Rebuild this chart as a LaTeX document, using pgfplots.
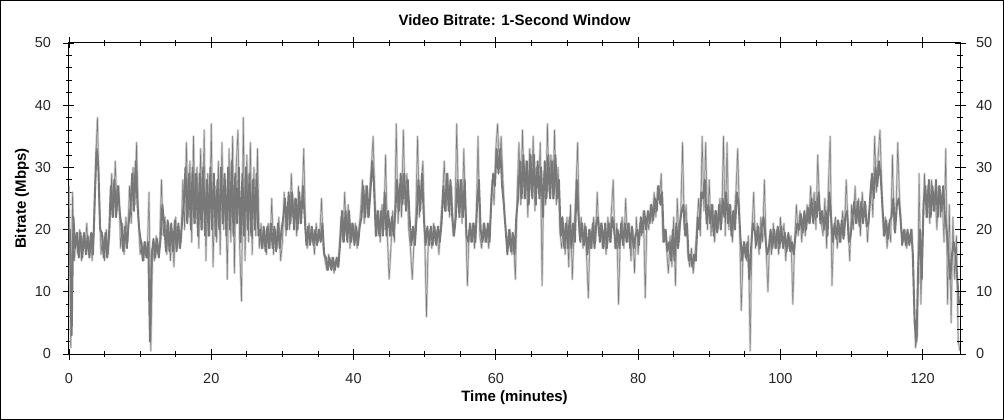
\documentclass[border=0pt]{standalone}
\usepackage{pgfplots}
\pgfplotsset{compat=1.18}
\usepackage{pgfplotstable}
\usepackage{fontspec}
\setmainfont{Liberation Sans}
\definecolor{dk}{RGB}{120,120,120}
\definecolor{lt}{RGB}{204,204,204}

% extremes (peaks and dips)
\pgfplotstableread[row sep=\\]{
x y\\
0 27\\ 0.25 1\\ 0.5 26\\ 0.75 15\\ 1 19\\ 1.25 16\\ 1.5 20\\ 1.75 15\\ 2 19\\ 2.25 17\\ 2.5 21\\ 2.75 16\\ 3 19\\ 3.25 15\\ 3.5 20\\ 3.75 31\\ 4 38\\ 4.25 25\\ 4.5 16\\ 4.75 19\\
5 15\\ 5.25 20\\ 5.5 16\\ 5.75 21\\ 6 29\\ 6.25 22\\ 6.5 31\\ 6.75 23\\ 7 27\\ 7.25 17\\ 7.5 21\\ 7.75 16\\ 8 22\\ 8.25 18\\ 8.5 27\\ 8.75 21\\ 9 30\\ 9.25 24\\ 9.5 34\\ 9.75 22\\
10 16\\ 10.25 18\\ 10.5 15\\ 10.75 18\\ 11 16\\ 11.25 26\\ 11.5 0.5\\ 11.75 17\\ 12 15\\ 12.25 19\\ 12.5 16\\ 12.75 18\\ 13 28\\ 13.25 19\\ 13.5 22\\ 13.75 16\\ 14 21\\ 14.25 15\\ 14.5 20\\ 14.75 14\\
15 22\\ 15.25 17\\ 15.5 20\\ 15.75 18\\ 16 28\\ 16.25 20\\ 16.5 34\\ 16.75 22\\ 17 31\\ 17.25 18\\ 17.5 35\\ 17.75 21\\ 18 30\\ 18.25 17\\ 18.5 33\\ 18.75 20\\ 19 36\\ 19.25 15\\ 19.5 29\\ 19.75 19\\
20 37\\ 20.25 14\\ 20.5 27\\ 20.75 18\\ 21 31\\ 21.25 16\\ 21.5 34\\ 21.75 20\\ 22 28\\ 22.25 12\\ 22.5 33\\ 22.75 18\\ 23 35\\ 23.25 13\\ 23.5 30\\ 23.75 36\\ 24 17\\ 24.25 8.5\\ 24.5 38\\ 24.75 15\\
25 32\\ 25.25 18\\ 25.5 34\\ 25.75 16\\ 26 30\\ 26.25 19\\ 26.5 33\\ 26.75 17\\ 27 21\\ 27.25 17\\ 27.5 20\\ 27.75 16\\ 28 21\\ 28.25 17\\ 28.5 25\\ 28.75 16\\ 29 20\\ 29.25 17\\ 29.5 22\\ 29.75 15\\
30 18\\ 30.25 26\\ 30.5 19\\ 30.75 24\\ 31 20\\ 31.25 29\\ 31.5 22\\ 31.75 25\\ 32 19\\ 32.25 27\\ 32.5 21\\ 32.75 24\\ 33 33\\ 33.25 20\\ 33.5 17\\ 33.75 21\\ 34 18\\ 34.25 20\\ 34.5 16\\ 34.75 21\\
35 18\\ 35.25 19\\ 35.5 25\\ 35.75 17\\ 36 15\\ 36.25 13.5\\ 36.5 16\\ 36.75 14\\ 37 15.5\\ 37.25 13\\ 37.5 15\\ 37.75 14\\ 38 17\\ 38.25 22\\ 38.5 18\\ 38.75 26\\ 39 19\\ 39.25 24\\ 39.5 17\\ 39.75 21\\
40 18\\ 40.25 21\\ 40.5 17\\ 40.75 20\\ 41 23\\ 41.25 28\\ 41.5 21\\ 41.75 27\\ 42 22\\ 42.25 26\\ 42.5 30\\ 42.75 35\\ 43 25\\ 43.25 19\\ 43.5 23\\ 43.75 18\\ 44 24\\ 44.25 20\\ 44.5 32\\ 44.75 19\\
45 12\\ 45.25 17\\ 45.5 23\\ 45.75 18\\ 46 37\\ 46.25 21\\ 46.5 27\\ 46.75 22\\ 47 36\\ 47.25 24\\ 47.5 29\\ 47.75 20\\ 48 17\\ 48.25 12\\ 48.5 18\\ 48.75 22\\ 49 35\\ 49.25 22\\ 49.5 27\\ 49.75 31\\
50 19\\ 50.25 6\\ 50.5 18\\ 50.75 20\\ 51 17\\ 51.25 21\\ 51.5 18\\ 51.75 20\\ 52 16\\ 52.25 21\\ 52.5 25\\ 52.75 31\\ 53 23\\ 53.25 29\\ 53.5 22\\ 53.75 27\\ 54 19\\ 54.25 21\\ 54.5 37\\ 54.75 24\\
55 28\\ 55.25 21\\ 55.5 33\\ 55.75 22\\ 56 11\\ 56.25 20\\ 56.5 18\\ 56.75 21\\ 57 17\\ 57.25 22\\ 57.5 35\\ 57.75 19\\ 58 17\\ 58.25 21\\ 58.5 18\\ 58.75 20\\ 59 17\\ 59.25 22\\ 59.5 28\\ 59.75 24\\
60 33\\ 60.25 37\\ 60.5 30\\ 60.75 35\\ 61 28\\ 61.25 22\\ 61.5 19\\ 61.75 17\\ 62 20\\ 62.25 16\\ 62.5 18\\ 62.75 12\\ 63 26\\ 63.25 34\\ 63.5 24\\ 63.75 36\\ 64 25\\ 64.25 31\\ 64.5 22\\ 64.75 33\\
65 26\\ 65.25 35\\ 65.5 23\\ 65.75 30\\ 66 27\\ 66.25 34\\ 66.5 11\\ 66.75 29\\ 67 24\\ 67.25 37\\ 67.5 26\\ 67.75 32\\ 68 25\\ 68.25 36\\ 68.5 24\\ 68.75 30\\ 69 20\\ 69.25 17\\ 69.5 21\\ 69.75 16\\
70 22\\ 70.25 14\\ 70.5 24\\ 70.75 12\\ 71 20\\ 71.25 26\\ 71.5 34\\ 71.75 19\\ 72 22\\ 72.25 17\\ 72.5 21\\ 72.75 16\\ 73 9\\ 73.25 20\\ 73.5 17\\ 73.75 22\\ 74 18\\ 74.25 26\\ 74.5 19\\ 74.75 21\\
75 17\\ 75.25 20\\ 75.5 16\\ 75.75 22\\ 76 18\\ 76.25 23\\ 76.5 28\\ 76.75 17\\ 77 21\\ 77.25 8\\ 77.5 19\\ 77.75 22\\ 78 17\\ 78.25 25\\ 78.5 18\\ 78.75 21\\ 79 15\\ 79.25 20\\ 79.5 13\\ 79.75 22\\
80 16\\ 80.25 21\\ 80.5 19\\ 80.75 23\\ 81 9\\ 81.25 22\\ 81.5 20\\ 81.75 24\\ 82 21\\ 82.25 26\\ 82.5 22\\ 82.75 27\\ 83 25\\ 83.25 29\\ 83.5 18\\ 83.75 20\\ 84 17\\ 84.25 13\\ 84.5 19\\ 84.75 14\\
85 22\\ 85.25 11\\ 85.5 25\\ 85.75 18\\ 86 23\\ 86.25 34\\ 86.5 20\\ 86.75 24\\ 87 16\\ 87.25 14\\ 87.5 17\\ 87.75 13\\ 88 16\\ 88.25 20\\ 88.5 25\\ 88.75 19\\ 89 35\\ 89.25 23\\ 89.5 34\\ 89.75 20\\
90 28\\ 90.25 19\\ 90.5 24\\ 90.75 18\\ 91 23\\ 91.25 20\\ 91.5 25\\ 91.75 21\\ 92 35\\ 92.25 19\\ 92.5 34\\ 92.75 20\\ 93 24\\ 93.25 18\\ 93.5 22\\ 93.75 26\\ 94 33\\ 94.25 22\\ 94.5 7\\ 94.75 16\\
95 18\\ 95.25 15\\ 95.5 19\\ 95.75 0.5\\ 96 20\\ 96.25 26\\ 96.5 17\\ 96.75 21\\ 97 16\\ 97.25 22\\ 97.5 18\\ 97.75 28\\ 98 17\\ 98.25 10\\ 98.5 19\\ 98.75 16\\ 99 21\\ 99.25 17\\ 99.5 20\\ 99.75 16\\
100 22\\ 100.25 18\\ 100.5 21\\ 100.75 15\\ 101 19\\ 101.25 17\\ 101.5 19\\ 101.75 8\\ 102 18\\ 102.25 24\\ 102.5 19\\ 102.75 23\\ 103 18\\ 103.25 22\\ 103.5 19\\ 103.75 24\\ 104 21\\ 104.25 27\\ 104.5 22\\ 104.75 26\\
105 20\\ 105.25 32\\ 105.5 24\\ 105.75 21\\ 106 19\\ 106.25 25\\ 106.5 17\\ 106.75 27\\ 107 35\\ 107.25 11\\ 107.5 20\\ 107.75 22\\ 108 17\\ 108.25 21\\ 108.5 18\\ 108.75 23\\ 109 19\\ 109.25 28\\ 109.5 21\\ 109.75 15\\
110 24\\ 110.25 20\\ 110.5 27\\ 110.75 21\\ 111 25\\ 111.25 19\\ 111.5 26\\ 111.75 22\\ 112 24\\ 112.25 18\\ 112.5 23\\ 112.75 28\\ 113 22\\ 113.25 35\\ 113.5 26\\ 113.75 32\\ 114 36\\ 114.25 27\\ 114.5 19\\ 114.75 22\\
115 17\\ 115.25 21\\ 115.5 18\\ 115.75 32\\ 116 20\\ 116.25 22\\ 116.5 34\\ 116.75 25\\ 117 20\\ 117.25 18\\ 117.5 20\\ 117.75 17\\ 118 19\\ 118.25 18\\ 118.5 20\\ 118.75 10\\ 119 1\\ 119.25 3\\ 119.5 29\\ 119.75 8\\
120 20\\ 120.25 29\\ 120.5 22\\ 120.75 27\\ 121 21\\ 121.25 28\\ 121.5 23\\ 121.75 26\\ 122 20\\ 122.25 27\\ 122.5 22\\ 122.75 25\\ 123 18\\ 123.25 33\\ 123.5 8\\ 123.75 24\\ 124 5\\ 124.25 22\\ 124.5 12\\ 124.75 19\\
125 2\\ 125.25 0.5\\
}\peaks

% dense core of the signal
\pgfplotstableread[row sep=\\]{
x y\\
0.125 20\\ 0.375 3\\ 0.625 22\\ 0.875 17\\ 1.125 19.5\\ 1.375 15.5\\ 1.625 19.5\\ 1.875 15.5\\ 2.125 19.5\\ 2.375 16\\ 2.625 19\\ 2.875 15.5\\ 3.125 19.5\\ 3.375 16\\
3.625 25\\ 3.875 33\\ 4.125 30\\ 4.375 20\\ 4.625 19.5\\ 4.875 15.5\\ 5.125 19.5\\ 5.375 15.5\\ 5.625 19\\
5.875 27\\ 6.125 22\\ 6.375 28\\ 6.625 22\\ 6.875 27\\ 7.125 23\\ 7.375 20.5\\ 7.625 16.5\\ 7.875 20.5\\ 8.125 17\\ 8.375 21\\
8.625 23\\ 8.875 29\\ 9.125 23\\ 9.375 31\\ 9.625 24\\ 9.875 20\\ 10.125 18\\ 10.375 15\\ 10.625 18\\ 10.875 15.5\\ 11.125 18\\
11.375 2\\ 11.625 16\\ 11.875 18.5\\ 12.125 15.5\\ 12.375 18.5\\ 12.625 15.5\\ 12.875 18.5\\ 13.125 24\\
13.375 21\\ 13.625 16.5\\ 13.875 21.5\\ 14.125 16.5\\ 14.375 21\\ 14.625 16.5\\ 14.875 21.5\\ 15.125 16.5\\ 15.375 21\\ 15.625 17\\ 15.875 21\\
16.125 24\\ 16.375 30\\ 16.625 21\\ 16.875 29\\ 17.125 20\\ 17.375 30\\ 17.625 21\\ 17.875 29\\ 18.125 19\\ 18.375 29\\ 18.625 20\\ 18.875 30\\ 19.125 19\\ 19.375 28\\ 19.625 19\\ 19.875 30\\
20.125 20\\ 20.375 29\\ 20.625 19\\ 20.875 28\\ 21.125 20\\ 21.375 30\\ 21.625 21\\ 21.875 29\\ 22.125 19\\ 22.375 30\\ 22.625 20\\ 22.875 31\\ 23.125 19\\ 23.375 29\\ 23.625 21\\ 23.875 30\\
24.125 18\\ 24.375 29\\ 24.625 19\\ 24.875 30\\ 25.125 20\\ 25.375 29\\ 25.625 19\\ 25.875 28\\ 26.125 20\\ 26.375 29\\ 26.625 19\\
26.875 20\\ 27.125 17\\ 27.375 20.5\\ 27.625 16.5\\ 27.875 20.5\\ 28.125 17\\ 28.375 21\\ 28.625 17\\ 28.875 20.5\\ 29.125 16.5\\ 29.375 21\\ 29.625 17\\ 29.875 20\\
30.125 22\\ 30.375 25\\ 30.625 20\\ 30.875 26\\ 31.125 21\\ 31.375 26\\ 31.625 20\\ 31.875 25\\ 32.125 20\\ 32.375 26\\ 32.625 21\\ 32.875 27\\ 33.125 22\\
33.375 17.5\\ 33.625 20.5\\ 33.875 17.5\\ 34.125 20.5\\ 34.375 17.5\\ 34.625 20\\ 34.875 17.5\\ 35.125 20\\ 35.375 18\\ 35.625 21\\ 35.875 16\\
36.125 15.5\\ 36.375 13.5\\ 36.625 15.5\\ 36.875 13.5\\ 37.125 15.5\\ 37.375 13.5\\ 37.625 15.5\\ 37.875 14\\
38.125 18\\ 38.375 23\\ 38.625 18\\ 38.875 23\\ 39.125 18\\ 39.375 23\\ 39.625 18\\ 39.875 21\\ 40.125 17.5\\ 40.375 20.5\\ 40.625 17.5\\ 40.875 20.5\\
41.125 22\\ 41.375 27\\ 41.625 22\\ 41.875 27\\ 42.125 22\\ 42.375 26\\ 42.625 31\\ 42.875 27\\
43.125 19\\ 43.375 23\\ 43.625 19\\ 43.875 23\\ 44.125 19\\ 44.375 26\\ 44.625 19\\ 44.875 23\\ 45.125 19\\ 45.375 22\\ 45.625 19\\ 45.875 23\\
46.125 28\\ 46.375 23\\ 46.625 29\\ 46.875 24\\ 47.125 29\\ 47.375 23\\ 47.625 28\\ 47.875 22\\ 48.125 17.5\\ 48.375 20.5\\ 48.625 17.5\\ 48.875 22\\
49.125 28\\ 49.375 23\\ 49.625 29\\ 49.875 22\\ 50.125 17.5\\ 50.375 20.5\\ 50.625 17.5\\ 50.875 20.5\\ 51.125 17.5\\ 51.375 20.5\\ 51.625 17.5\\ 51.875 20.5\\ 52.125 18\\ 52.375 21\\
52.625 27\\ 52.875 23\\ 53.125 29\\ 53.375 23\\ 53.625 28\\ 53.875 22\\ 54.125 19\\ 54.375 22\\
54.625 28\\ 54.875 22\\ 55.125 28\\ 55.375 22\\ 55.625 28\\ 55.875 19\\
56.125 18\\ 56.375 21\\ 56.625 18\\ 56.875 21\\ 57.125 18\\ 57.375 24\\ 57.625 28\\ 57.875 20\\ 58.125 18\\ 58.375 21\\ 58.625 18\\ 58.875 21\\ 59.125 18\\
59.375 25\\ 59.625 29\\ 59.875 27\\ 60.125 33\\ 60.375 29\\ 60.625 33\\ 60.875 27\\ 61.125 24\\
61.375 20\\ 61.625 16\\ 61.875 20\\ 62.125 16.5\\ 62.375 19.5\\ 62.625 16\\ 62.875 22\\
63.125 25\\ 63.375 31\\ 63.625 25\\ 63.875 32\\ 64.125 25\\ 64.375 31\\ 64.625 24\\ 64.875 32\\ 65.125 25\\ 65.375 32\\ 65.625 24\\ 65.875 31\\
66.125 25\\ 66.375 30\\ 66.625 22\\ 66.875 31\\ 67.125 25\\ 67.375 32\\ 67.625 25\\ 67.875 31\\ 68.125 25\\ 68.375 32\\ 68.625 25\\ 68.875 28\\
69.125 19\\ 69.375 22\\ 69.625 17\\ 69.875 21\\ 70.125 17\\ 70.375 22\\ 70.625 17\\ 70.875 21\\ 71.125 18\\ 71.375 28\\ 71.625 22\\ 71.875 18\\ 72.125 21\\ 72.375 17.5\\
72.625 20.5\\ 72.875 16\\ 73.125 20\\ 73.375 17\\ 73.625 21\\ 73.875 17\\ 74.125 21\\ 74.375 22\\ 74.625 18\\ 74.875 21\\ 75.125 17\\ 75.375 21\\ 75.625 17\\ 75.875 21\\
76.125 18\\ 76.375 22\\ 76.625 20\\ 76.875 17\\ 77.125 20\\ 77.375 17\\ 77.625 21\\ 77.875 17.5\\ 78.125 21\\ 78.375 18\\ 78.625 21\\ 78.875 17\\ 79.125 20.5\\ 79.375 17\\ 79.625 19\\ 79.875 20\\ 80.125 17.5\\
80.375 22\\ 80.625 19.5\\ 80.875 23\\ 81.125 20\\ 81.375 23\\ 81.625 21\\ 81.875 24\\ 82.125 21.5\\ 82.375 25\\ 82.625 23\\ 82.875 27\\ 83.125 24\\ 83.375 26\\
83.625 18\\ 83.875 20\\ 84.125 16.5\\ 84.375 18\\ 84.625 15\\ 84.875 20\\ 85.125 15\\ 85.375 21\\ 85.625 17\\ 85.875 21\\ 86.125 23\\ 86.375 24\\ 86.625 19\\ 86.875 21\\
87.125 15\\ 87.375 16\\ 87.625 14\\ 87.875 16\\ 88.125 15\\
88.375 22\\ 88.625 20\\ 88.875 26\\ 89.125 25\\ 89.375 28\\ 89.625 21\\ 89.875 24\\ 90.125 21\\ 90.375 24\\ 90.625 19\\ 90.875 23\\ 91.125 19.5\\ 91.375 24\\ 91.625 20\\
91.875 25\\ 92.125 22\\ 92.375 26\\ 92.625 21\\ 92.875 24\\ 93.125 19\\ 93.375 23\\ 93.625 20\\ 93.875 26\\ 94.125 24\\ 94.375 19\\
94.625 15\\ 94.875 18\\ 95.125 15.5\\ 95.375 18\\ 95.625 12\\
95.875 17\\ 96.125 21\\ 96.375 20\\ 96.625 17.5\\ 96.875 20.5\\ 97.125 17\\ 97.375 20.5\\ 97.625 22\\ 97.875 19\\ 98.125 16\\ 98.375 17\\ 98.625 20\\ 98.875 17\\ 99.125 20\\ 99.375 17\\
99.625 20.5\\ 99.875 17\\ 100.125 20.5\\ 100.375 17\\ 100.625 19.5\\ 100.875 16.5\\ 101.125 19.5\\ 101.375 16.5\\ 101.625 18\\ 101.875 16\\ 102.125 19\\
102.375 21\\ 102.625 20\\ 102.875 22.5\\ 103.125 19.5\\ 103.375 23\\ 103.625 20\\ 103.875 23.5\\ 104.125 21\\ 104.375 25\\ 104.625 21\\ 104.875 24.5\\
105.125 22\\ 105.375 26\\ 105.625 21\\ 105.875 23\\ 106.125 20\\ 106.375 23\\ 106.625 19\\ 106.875 26\\ 107.125 22\\
107.375 18\\ 107.625 21\\ 107.875 18.5\\ 108.125 21.5\\ 108.375 18\\ 108.625 21.5\\ 108.875 18.5\\ 109.125 22\\ 109.375 23\\ 109.625 18\\ 109.875 19\\
110.125 22\\ 110.375 24.5\\ 110.625 21\\ 110.875 24.5\\ 111.125 20.5\\ 111.375 24.5\\ 111.625 21\\ 111.875 24.5\\ 112.125 20.5\\ 112.375 21\\
112.625 25\\ 112.875 29\\ 113.125 25\\ 113.375 30\\ 113.625 27\\ 113.875 31\\ 114.125 28\\ 114.375 23\\
114.625 19\\ 114.875 21.5\\ 115.125 18.5\\ 115.375 21.5\\ 115.625 22\\ 115.875 25\\ 116.125 19.5\\ 116.375 24\\ 116.625 25\\ 116.875 22\\
117.125 17.5\\ 117.375 20\\ 117.625 17.5\\ 117.875 20\\ 118.125 17.5\\ 118.375 20\\ 118.625 16\\
118.875 5\\ 119.125 2\\ 119.375 14\\ 119.625 20\\ 119.875 12\\
120.125 24\\ 120.375 27\\ 120.625 22\\ 120.875 28\\ 121.125 22\\ 121.375 27\\ 121.625 23\\ 121.875 28\\ 122.125 22\\ 122.375 27\\ 122.625 23\\ 122.875 27\\
123.125 22\\ 123.375 20\\ 123.625 16\\ 123.875 12\\ 124.125 16\\ 124.375 18\\ 124.625 16\\ 124.875 12\\ 125.125 8\\
}\core

\begin{document}
\begin{tikzpicture}
\useasboundingbox (-69bp,-66bp) rectangle (935bp,354bp);
\draw[line width=1.2bp, black] (-68.4bp,-65.4bp) rectangle (934.4bp,353.4bp);
\pgfplotsset{
  common/.style={
    at={(0,0)}, anchor=south west, scale only axis,
    width=891bp, height=311bp,
    xmin=0, xmax=125.25, ymin=0, ymax=50,
    xtick={0,20,...,120}, ytick={0,10,...,50},
    minor x tick num=3, minor y tick num=4,
    tick align=center,
    major tick length=11bp, minor tick length=6bp,
    axis line style={line width=1bp, black},
    every tick/.style={black, line width=0.9bp},
    tick label style={font=\fontsize{14.5bp}{17bp}\selectfont, text=black!85},
    /pgf/number format/assume math mode=true,
  }
}
\begin{axis}[common,
    yticklabel pos=left,
    yticklabel style={xshift=-9bp},
    xticklabel style={yshift=-10bp},
    xlabel={Time (minutes)},
    ylabel={Bitrate (Mbps)},
    every axis x label/.style={at={(axis description cs:0.5,0)}, anchor=center, yshift=-44bp, font=\bfseries\fontsize{15bp}{18bp}\selectfont},
    every axis y label/.style={at={(axis description cs:0,0.5)}, xshift=-47bp, rotate=90, anchor=center, font=\bfseries\fontsize{15bp}{18bp}\selectfont},
  ]
  \addplot[lt, line width=2.2bp, line join=round, mark=none] table[x=x, y=y] {\peaks};
  \addplot[dk, line width=1.9bp, line join=round, mark=none] table[x=x, y=y] {\core};
  \addplot[dk, line width=0.5bp, line join=round, mark=none] table[x=x, y=y] {\peaks};
\end{axis}
\begin{axis}[common,
    axis x line=none,
    axis y line*=right,
    yticklabel pos=right,
    yticklabel style={xshift=7bp},
  ]
\end{axis}
\node[font=\bfseries\fontsize{15bp}{18bp}\selectfont, anchor=center] at (445.5bp,334bp) {Video Bitrate: 1-Second Window};
\end{tikzpicture}
\end{document}
